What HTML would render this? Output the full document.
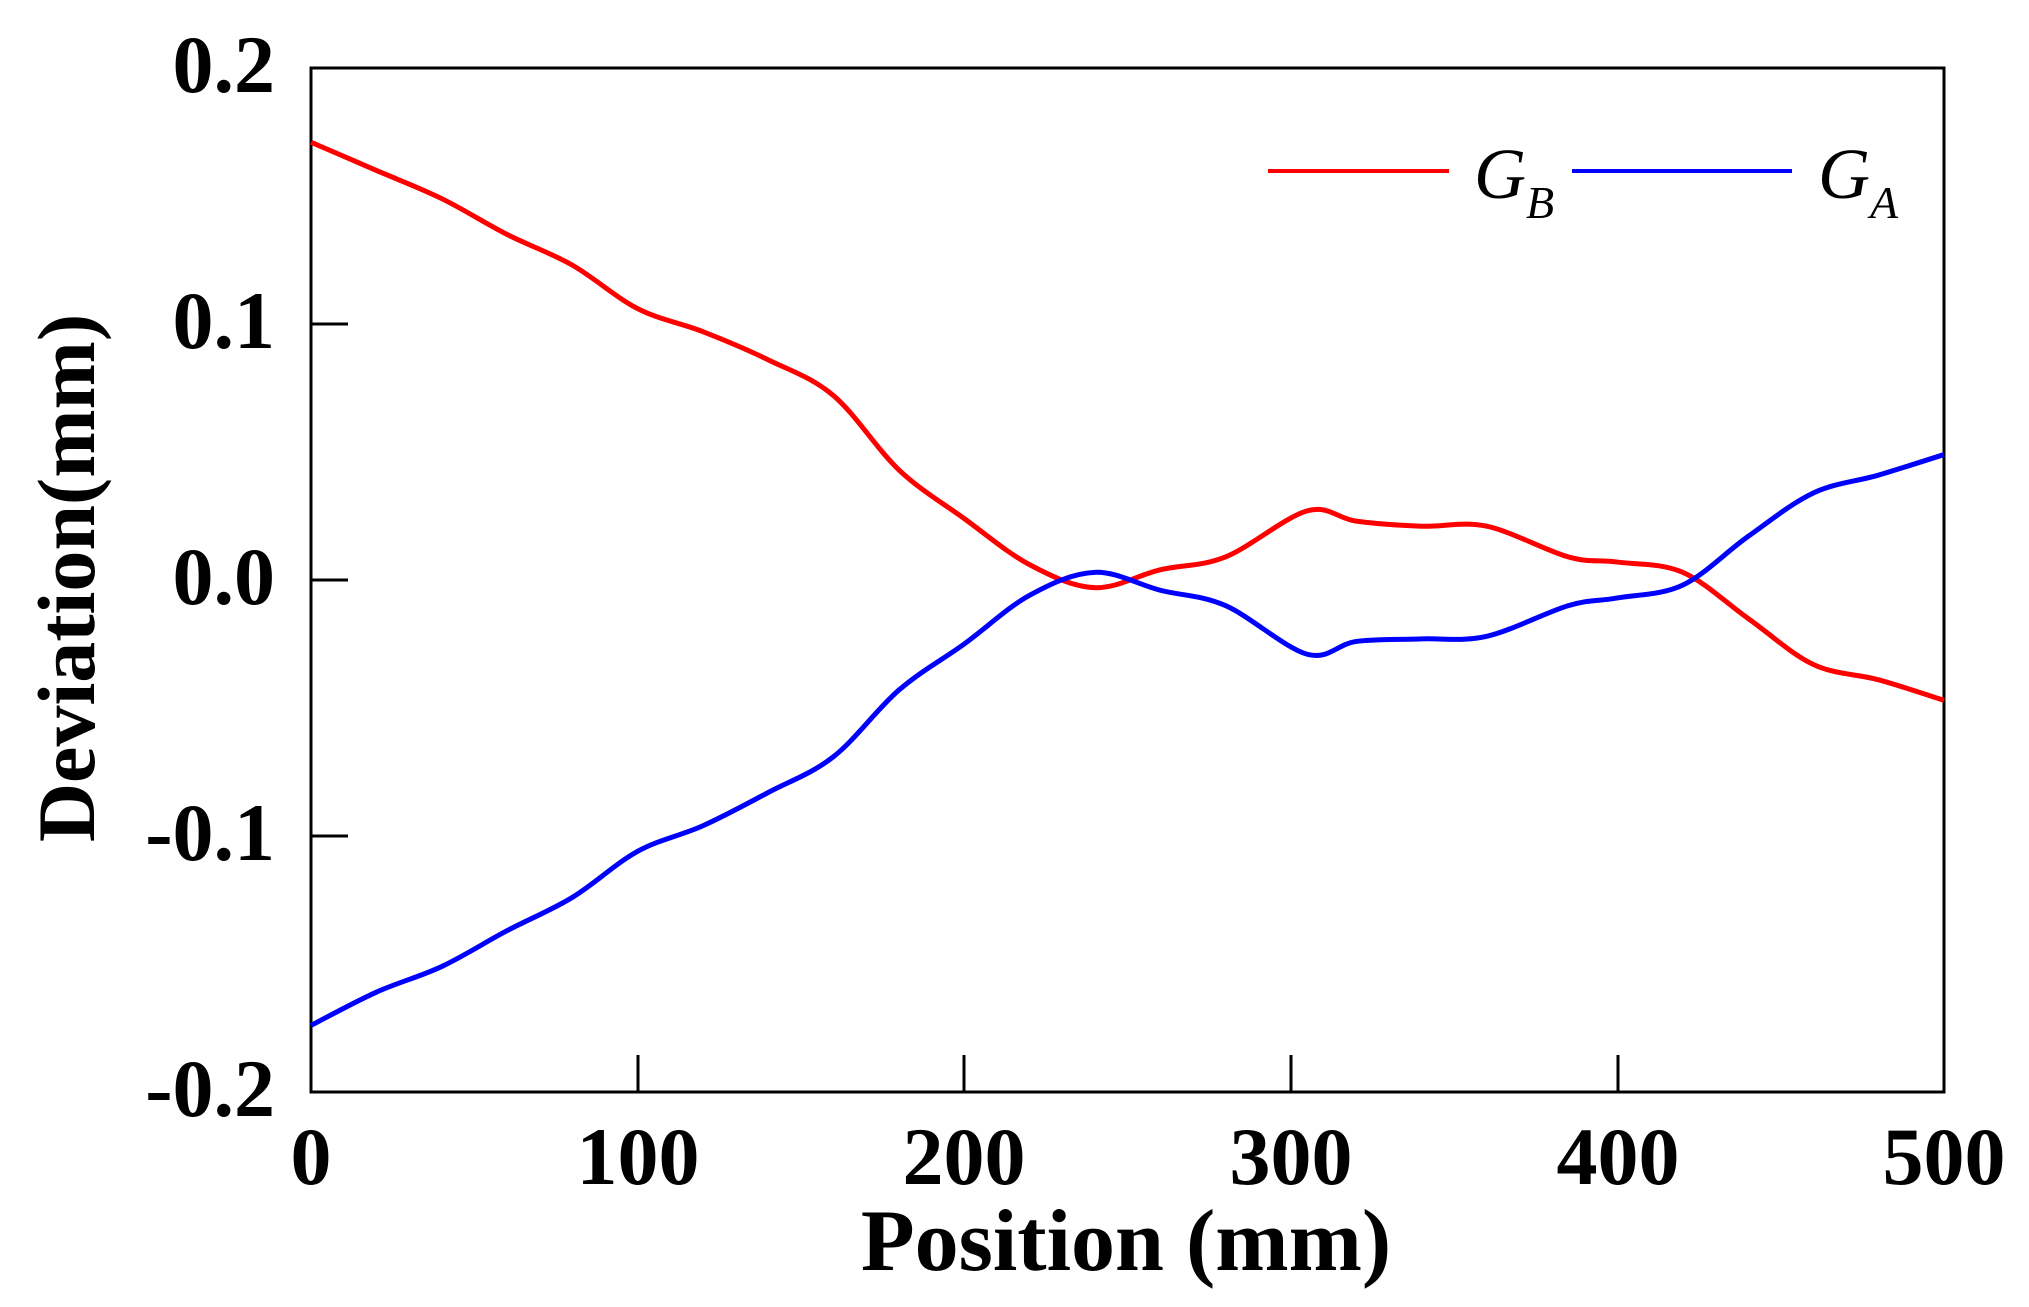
<!DOCTYPE html>
<html><head><meta charset="utf-8"><style>
html,body{margin:0;padding:0;background:#fff;}
svg{display:block;}
text{font-family:"Liberation Serif",serif;font-weight:bold;fill:#000;}
text.lg{font-weight:normal;font-style:italic;}
</style></head><body>
<svg id="s" width="2029" height="1307" viewBox="0 0 2029 1307" xmlns="http://www.w3.org/2000/svg">
<rect x="311" y="68" width="1633" height="1024" fill="none" stroke="#000" stroke-width="3"/>
<g stroke="#000" stroke-width="3">
<line x1="311" y1="324" x2="348" y2="324"/><line x1="311" y1="580" x2="348" y2="580"/><line x1="311" y1="836" x2="348" y2="836"/>
<line x1="638" y1="1092" x2="638" y2="1055"/><line x1="964" y1="1092" x2="964" y2="1055"/><line x1="1291" y1="1092" x2="1291" y2="1055"/><line x1="1618" y1="1092" x2="1618" y2="1055"/>
</g>
<g font-size="82" text-anchor="end">
<text x="275" y="92">0.2</text><text x="275" y="348">0.1</text><text x="275" y="604">0.0</text><text x="275" y="860">-0.1</text><text x="275" y="1116">-0.2</text>
</g>
<g font-size="82" text-anchor="middle">
<text x="311" y="1184">0</text><text x="638" y="1184">100</text><text x="964" y="1184">200</text><text x="1291" y="1184">300</text><text x="1618" y="1184">400</text><text x="1944" y="1184">500</text>
</g>
<text x="1126" y="1270" font-size="88" text-anchor="middle">Position (mm)</text>
<text transform="translate(94,578) rotate(-90)" font-size="82" text-anchor="middle">Deviation(mm)</text>
<line x1="1268" y1="171" x2="1449" y2="171" stroke="#f00" stroke-width="4"/>
<line x1="1572" y1="171" x2="1792" y2="171" stroke="#00f" stroke-width="4"/>
<text class="lg" x="1474" y="198" font-size="72">G<tspan font-size="46" dy="20">B</tspan></text>
<text class="lg" x="1818" y="198" font-size="72">G<tspan font-size="46" dy="20">A</tspan></text>
<path id="r" fill="none" stroke="#f00" stroke-width="5"/>
<path id="b" fill="none" stroke="#00f" stroke-width="5"/>
</svg>
<script>
var R=[[0,.171],[20,.160],[40,.149],[60,.135],[80,.123],[100,.106],[120,.097],[140,.086],[160,.072],[180,.043],[200,.024],[220,.006],[240,-.003],[260,.004],[280,.009],[305,.027],[320,.023],[340,.021],[360,.021],[385,.009],[400,.007],[420,.003],[440,-.015],[460,-.033],[480,-.039],[500,-.047]];
var B=[[0,-.174],[20,-.161],[40,-.151],[60,-.137],[80,-.124],[100,-.106],[120,-.096],[140,-.083],[160,-.069],[180,-.043],[200,-.025],[220,-.006],[240,.003],[260,-.004],[280,-.010],[305,-.029],[320,-.024],[340,-.023],[360,-.022],[385,-.010],[400,-.007],[420,-.002],[440,.017],[460,.034],[480,.041],[500,.049]];
function X(v){return 311+v*1633/500;}function Y(v){return 580-v*2560;}
function path(d){var p=d.map(function(a){return [X(a[0]),Y(a[1])];});var s="M"+p[0][0]+","+p[0][1];
for(var i=0;i<p.length-1;i++){var p0=p[i-1]||p[i],p1=p[i],p2=p[i+1],p3=p[i+2]||p2;
s+=" C"+(p1[0]+(p2[0]-p0[0])/6)+","+(p1[1]+(p2[1]-p0[1])/6)+" "+(p2[0]-(p3[0]-p1[0])/6)+","+(p2[1]-(p3[1]-p1[1])/6)+" "+p2[0]+","+p2[1];}return s;}
document.getElementById("r").setAttribute("d",path(R));
document.getElementById("b").setAttribute("d",path(B));
</script>
</body></html>
